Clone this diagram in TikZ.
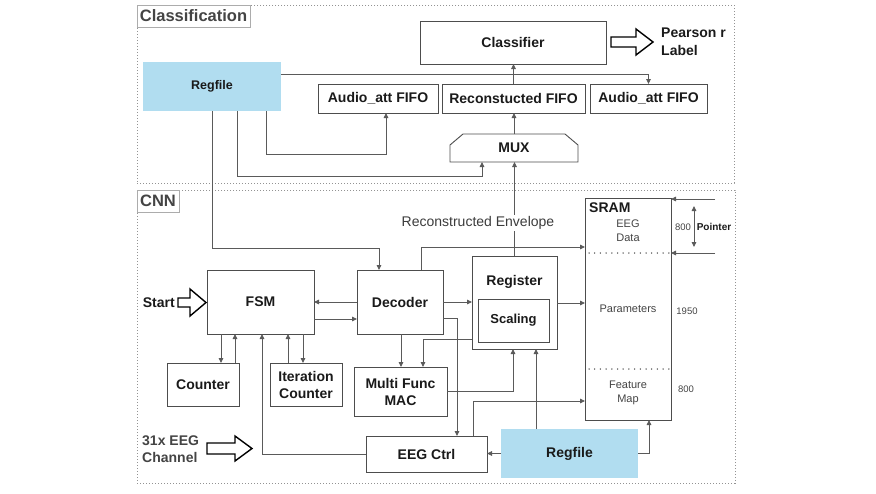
\documentclass[tikz,border=0pt]{standalone}
\usepackage{fontspec}
\setmainfont{Liberation Sans}
\usetikzlibrary{arrows.meta,calc}
\definecolor{boxline}{HTML}{4D4D4D}
\definecolor{wirec}{HTML}{5A5A5A}
\definecolor{rfblue}{HTML}{B1DDF0}
\definecolor{txt}{HTML}{1A1A1A}
\definecolor{gtxt}{HTML}{444444}
\begin{document}
\begin{tikzpicture}[x=1pt,y=-1pt,
 box/.style={draw=boxline, line width=0.9pt, fill=white, inner sep=0pt, outer sep=0pt,
   font=\bfseries\fontsize{14}{17}\selectfont, text=txt, align=center},
 rf/.style={box, draw=none, fill=rfblue},
 arr/.style={draw=wirec, line width=0.8pt, -{Triangle[length=5pt,width=4.6pt]}},
 dblarr/.style={draw=wirec, line width=0.8pt, {Triangle[length=5pt,width=4.6pt]}-{Triangle[length=5pt,width=4.6pt]}},
 grp/.style={draw=gray!85, line width=0.8pt, dash pattern=on 1.2pt off 1.8pt, inner sep=0pt, outer sep=0pt},
 tag/.style={draw=gray!65, line width=0.8pt, fill=white, inner sep=0pt, outer sep=0pt,
   font=\bfseries\fontsize{16.5}{18}\selectfont, text=gtxt},
 small/.style={font=\fontsize{11}{14}\selectfont, text=gtxt, align=center, inner sep=0pt},
 num/.style={font=\fontsize{9.5}{11}\selectfont, text=gtxt, inner sep=0pt},
 lbl/.style={font=\bfseries\fontsize{14}{18}\selectfont, text=txt, inner sep=0pt},
 hollow/.style={draw=black, line width=1.4pt, fill=white, line join=miter},
]
\useasboundingbox (0,0) rectangle (876,493);

% group frames
\node[grp, minimum width=597, minimum height=178] (clsgrp) at (435.5,94) {};
\node[grp, minimum width=598, minimum height=293] (cnngrp) at (436,336.5) {};
\node[tag, minimum width=113, minimum height=22] (clstag) at (193.5,16) {Classification};
\node[tag, minimum width=42, minimum height=22] (cnntag) at (158,201) {CNN};

% classification blocks
\node[box, minimum width=186, minimum height=43] (classifier) at (513,42.5) {Classifier};
\node[rf, minimum width=138, minimum height=49, font=\bfseries\fontsize{12.5}{15}\selectfont] (regfileA) at (212,86.5) {Regfile};
\node[box, minimum width=120, minimum height=29] (audioL) at (378,98.5) {Audio\_att FIFO};
\node[box, minimum width=143, minimum height=29] (recfifo) at (513.5,98.5) {Reconstucted FIFO};
\node[box, minimum width=117, minimum height=29] (audioR) at (648.5,98.5) {Audio\_att FIFO};
\node[inner sep=0pt, outer sep=0pt, minimum width=128, minimum height=28,
  font=\bfseries\fontsize{14}{17}\selectfont, text=txt] (mux) at (514,148) {MUX};
\draw[draw=boxline, line width=0.9pt] (mux.south west) -- ([yshift=17pt]mux.south west)
  -- ([xshift=13pt]mux.north west) -- ([xshift=-13pt]mux.north east)
  -- ([yshift=17pt]mux.south east) -- (mux.south east) -- cycle;
\node[lbl, anchor=west, align=left] (pearson) at (661,42) {Pearson r\\Label};
\draw[hollow] (611,37) -- (636,37) -- (636,29) -- (653,42) -- (636,55) -- (636,47) -- (611,47) -- cycle;

% CNN blocks
\node[box, minimum width=107, minimum height=64] (fsm) at (260.5,302) {FSM};
\node[box, minimum width=86, minimum height=64] (decoder) at (400,302) {Decoder};
\node[box, minimum width=72, minimum height=43] (counter) at (203,384.5) {Counter};
\node[box, minimum width=72, minimum height=43] (itercounter) at (306,384.5) {Iteration\\Counter};
\node[box, minimum width=93, minimum height=49] (mac) at (400.5,391.5) {Multi Func\\MAC};
\node[box, minimum width=121, minimum height=36] (eegctrl) at (426.5,454) {EEG Ctrl};
\node[box, minimum width=85, minimum height=93] (register) at (514.5,302.5) {};
\node[lbl] (registerlbl) at ([yshift=-26pt]register.north) {Register};
\node[box, minimum width=71, minimum height=43, font=\bfseries\fontsize{13}{16}\selectfont] (scaling) at (513.5,320.5) {Scaling};
\node[box, minimum width=86, minimum height=222] (sram) at (628,309) {};
\node[rf, minimum width=137, minimum height=49] (regfileB) at (569.5,453.5) {Regfile};

% SRAM contents
\node[lbl, anchor=west] (sramlbl) at ([xshift=4pt,yshift=-10pt]sram.north west) {SRAM};
\node[small] (eegdata) at (628,231) {EEG\\Data};
\node[small] (params) at (628,309) {Parameters};
\node[small] (fmap) at (628,393) {Feature\\Map};
\draw[draw=gtxt, line width=1.5pt, line cap=round, dash pattern=on 0pt off 5.7pt]
  ([xshift=4pt,yshift=-55pt]sram.north west) -- ([yshift=-55pt]sram.north east);
\draw[draw=gtxt, line width=1.5pt, line cap=round, dash pattern=on 0pt off 5.7pt]
  ([xshift=4pt,yshift=-171pt]sram.north west) -- ([yshift=-171pt]sram.north east);
\node[num] (n800a) at (683,227) {800};
\node[num] (n1950) at (687,311) {1950};
\node[num] (n800b) at (686,389) {800};
\node[font=\bfseries\fontsize{10}{12}\selectfont, text=txt, inner sep=0pt] (pointer) at (714,227) {Pointer};
\coordinate (ptrA) at (715,199);
\coordinate (ptrB) at (715,253);
\coordinate (ptrtop) at (694,206);
\coordinate (ptrbot) at (694,247);
\draw[arr] (ptrA) -- (ptrA -| sram.east);
\draw[arr] (ptrB) -- (ptrB -| sram.east);
\draw[dblarr] (ptrtop) -- (ptrbot);

% inputs
\node[lbl, anchor=east] (start) at (175,303) {Start};
\draw[hollow] (178,298) -- (190,298) -- (190,289) -- (206,302.5) -- (190,316) -- (190,307) -- (178,307) -- cycle;
\node[lbl, anchor=west, align=left, text=gtxt, font=\bfseries\fontsize{14}{16.5}\selectfont] (eegin) at (142,449) {31x EEG\\Channel};
\draw[hollow] (207,443) -- (235,443) -- (235,436) -- (252,448.5) -- (235,461) -- (235,454) -- (207,454) -- cycle;

% classification connectors
\draw[arr] ([yshift=12.5pt]regfileA.east) -| (audioR.north);
\draw[arr] (recfifo.north) -- (recfifo.north |- classifier.south);
\draw[arr] (mux.north) -- (mux.north |- recfifo.south);
\draw[arr] ([xshift=54pt]regfileA.south) -- ++(0,43) -| ([xshift=8pt]audioL.south);
\draw[arr] ([xshift=25pt]regfileA.south) -- ++(0,65) -| ([xshift=-32pt]mux.south);
\draw[arr] (regfileA.south) -- ++(0,137) -| ([xshift=-21pt]decoder.north);

% CNN connectors
\draw[arr] (register.north) -- (register.north |- mux.south);
\node[font=\fontsize{14}{16}\selectfont, text=txt!85, fill=white, inner sep=1.5pt] (envlbl) at (478,223) {Reconstructed Envelope};
\draw[arr] ([xshift=21pt]decoder.north) |- ([yshift=62pt]sram.west);
\draw[arr] (decoder.west) -- (decoder.west -| fsm.east);
\draw[arr] ([yshift=-17pt]fsm.east) -- ([yshift=-17pt]fsm.east -| decoder.west);
\draw[arr] (decoder.east) -- (decoder.east -| register.west);
\draw[arr] ([yshift=-0.5pt]register.east) -- ([yshift=-0.5pt]register.east -| sram.west);
\draw[arr] ([xshift=-39.5pt]fsm.south) -- ([xshift=-39.5pt]fsm.south |- counter.north);
\draw[arr] ([xshift=32pt]counter.north) -- ([xshift=32pt]counter.north |- fsm.south);
\draw[arr] ([xshift=-18pt]itercounter.north) -- ([xshift=-18pt]itercounter.north |- fsm.south);
\draw[arr] ([xshift=42.5pt]fsm.south) -- ([xshift=42.5pt]fsm.south |- itercounter.north);
\draw[arr] (eegctrl.west) -| ([xshift=1.5pt]fsm.south);
\draw[arr] ([xshift=1pt]decoder.south) -- ([xshift=1pt]decoder.south |- mac.north);
\draw[arr] ([yshift=-36.5pt]register.west) -| ([xshift=22.5pt]mac.north);
\draw[arr] ([yshift=-16pt]decoder.east) -| ([xshift=30.5pt]eegctrl.north);
\draw[arr] (mac.east) -| ([xshift=-1.5pt]register.south);
\draw[arr] ([xshift=-33.5pt]regfileB.north) -- ([xshift=-33.5pt]regfileB.north |- register.south);
\draw[arr] ([xshift=46.5pt]eegctrl.north) |- ([yshift=-92pt]sram.west);
\draw[arr] (regfileB.west) -- (regfileB.west -| eegctrl.east);
\draw[arr] (regfileB.east) -| ([xshift=21pt]sram.south);
\end{tikzpicture}
\end{document}
